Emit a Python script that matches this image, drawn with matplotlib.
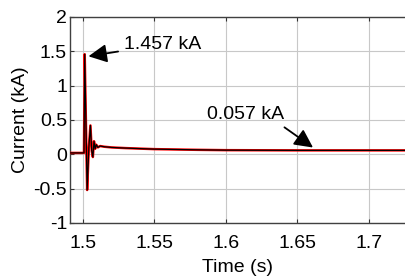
import matplotlib
matplotlib.use("Agg")
import matplotlib.pyplot as plt

# time (s) and current (kA)
time = [1.49, 1.5008, 1.5013, 1.5022, 1.5030, 1.5042, 1.5053, 1.5062, 1.5070,
        1.5078, 1.5086, 1.5094, 1.5105, 1.512, 1.515, 1.52, 1.53, 1.55, 1.58,
        1.60, 1.65, 1.70, 1.73]
current = [0.02, 0.02, 1.457, 0.40, -0.52, 0.10, 0.42, 0.05, -0.04,
           0.19, 0.08, 0.14, 0.10, 0.12, 0.11, 0.10, 0.09, 0.075, 0.065,
           0.060, 0.057, 0.057, 0.057]

xticks = [1.5, 1.55, 1.6, 1.65, 1.7]
xtick_labels = ["1.5", "1.55", "1.6", "1.65", "1.7"]
yticks = [-1, -0.5, 0, 0.5, 1, 1.5, 2]
ytick_labels = ["-1", "-0.5", "0", "0.5", "1", "1.5", "2"]

plt.rcParams['font.family'] = ['Liberation Sans', 'DejaVu Sans']
fs = 14

fig = plt.figure(figsize=(4.06, 2.77), dpi=100)
ax = fig.add_axes([0.172, 0.195, 0.828, 0.744])

ax.plot(time, current, color='#ff0000', lw=1.8, zorder=3)
ax.plot(time, current, color='black', lw=0.9, zorder=4)

ax.set_xlim(1.4909, 1.7259)
ax.set_ylim(-1, 2)
ax.set_xticks(xticks)
ax.set_xticklabels(xtick_labels)
ax.set_yticks(yticks)
ax.set_yticklabels(ytick_labels)
ax.tick_params(direction='in', length=3, labelsize=fs, colors='#333333',
               labelcolor='black', top=True)
ax.tick_params(axis='x', pad=9)
ax.tick_params(axis='y', pad=2)
ax.grid(True, color='#c8c8c8', lw=0.8)
ax.set_axisbelow(True)
for side in ['left', 'bottom', 'top']:
    ax.spines[side].set_color('#404040')
    ax.spines[side].set_linewidth(1.0)
ax.spines['right'].set_visible(False)

ax.set_xlabel("Time (s)", fontsize=fs, labelpad=5)
ax.set_ylabel("Current (kA)", fontsize=fs, labelpad=3)

arrow = dict(arrowstyle='-|>,head_length=0.8,head_width=0.4', color='black', lw=1.3)
ax.annotate("1.457 kA", xy=(1.502, 1.42), xytext=(1.5285, 1.6),
            fontsize=fs, va='center', ha='left', arrowprops=arrow)
ax.annotate("0.057 kA", xy=(1.6625, 0.075), xytext=(1.587, 0.58),
            fontsize=fs, va='center', ha='left',
            arrowprops=dict(arrow, relpos=(0.92, 0.0)))

fig.savefig("out.png", dpi=100)
